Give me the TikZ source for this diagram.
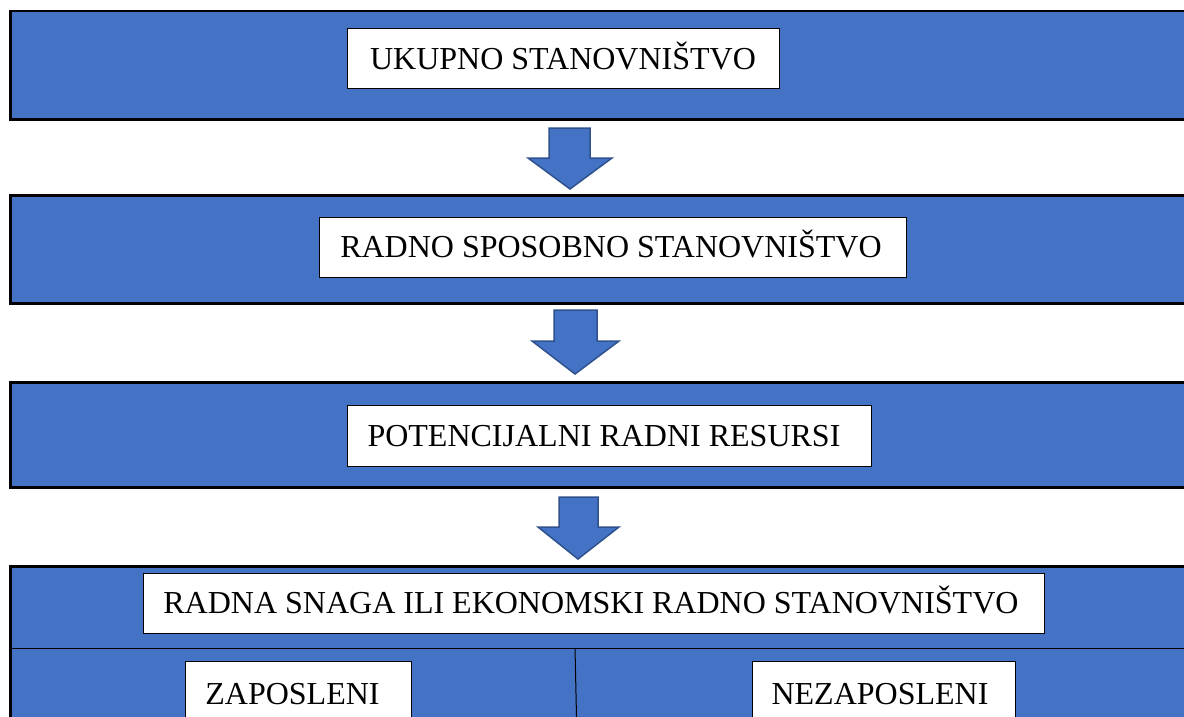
\documentclass[tikz,border=0pt]{standalone}
\usepackage{fontspec}
\setmainfont{Liberation Serif}
\definecolor{blu}{HTML}{4472C4}
\definecolor{blb}{HTML}{2F528F}
\newcommand{\padr}[1]{\rule{#1}{0pt}}
\begin{document}
\begin{tikzpicture}[x=1pt,y=-1pt,
  band/.style={draw=black,line width=2.5pt,fill=blu,inner sep=0pt,anchor=north west},
  lbl/.style={draw=black,line width=1pt,fill=white,font=\fontsize{32}{38}\selectfont,
    inner sep=0pt,text height=21pt,text depth=0pt,anchor=center},
  barrow/.style={fill=blu,draw=blb,line width=1.5pt,line join=miter},
  divline/.style={line width=1pt,draw=black}]
\useasboundingbox (0,0) rectangle (1184,717);
\clip (0,0) rectangle (1184,717);
% bands
\node[band,minimum width=1200pt,minimum height=108pt] (b1) at (9,10) {};
\node[band,minimum width=1200pt,minimum height=108pt] (b2) at (9,194) {};
\node[band,minimum width=1200pt,minimum height=105pt] (b3) at (9,381) {};
\node[band,minimum width=1200pt,minimum height=200pt] (b4) at (9,565) {};
% dividers in the last band
\coordinate (hl) at (9,648);
\coordinate (hr) at (1210,648);
\coordinate (vt) at (575,648);
\coordinate (vb) at (577,740);
\draw[divline] (hl) -- (hr);
\draw[divline] (vt) -- (vb);
% block arrows
\draw[barrow] (549,128) -- (590,128) -- (590,158) -- (612,158) -- (570,189) -- (528,158) -- (549,158) -- cycle;
\draw[barrow] (554,310) -- (597,310) -- (597,341) -- (619,341) -- (575,374) -- (532,341) -- (554,341) -- cycle;
\draw[barrow] (559,497) -- (598,497) -- (598,527) -- (619,527) -- (578,559) -- (538,527) -- (559,527) -- cycle;
% labels
\node[lbl,minimum width=432pt,minimum height=60pt] (n1) at (563,59) {UKUPNO STANOVNIŠTVO};
\node[lbl,minimum width=587pt,minimum height=60pt] (n2) at (612.5,247) {RADNO SPOSOBNO STANOVNIŠTVO\padr{3pt}};
\node[lbl,minimum width=524pt,minimum height=61pt] (n3) at (609,435.5) {POTENCIJALNI RADNI RESURSI\padr{10pt}};
\node[lbl,minimum width=901pt,minimum height=60pt] (n4) at (593.5,603) {RADNA SNAGA ILI EKONOMSKI RADNO STANOVNIŠTVO\padr{5pt}};
\node[lbl,minimum width=226pt,minimum height=65pt] (n5) at (298,693.5) {ZAPOSLENI\padr{11pt}};
\node[lbl,minimum width=263pt,minimum height=65pt] (n6) at (883.5,693.5) {NEZAPOSLENI\padr{7pt}};
\end{tikzpicture}
\end{document}
